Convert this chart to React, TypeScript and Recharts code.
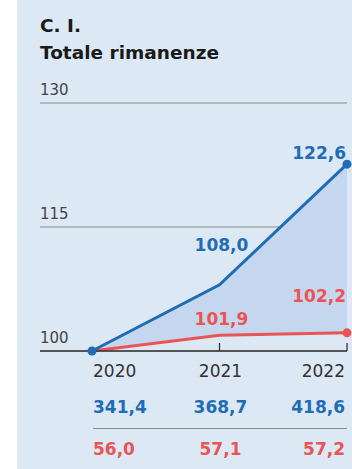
import { ComposedChart, Area, Line, XAxis, YAxis, CartesianGrid, LabelList } from "recharts";

const years = ["2020", "2021", "2022"];
const indexBlue = [100, 108.0, 122.6];
const indexRed = [100, 101.9, 102.2];
const valuesBlue = ["341,4", "368,7", "418,6"];
const valuesRed = ["56,0", "57,1", "57,2"];
const yTicks = [100, 115, 130];

const BLUE = "#1f6db4";
const RED = "#ea5455";
const FONT = "'DejaVu Sans', sans-serif";

const data = years.map((year, i) => ({
  year,
  blue: indexBlue[i],
  red: indexRed[i],
  band: [indexRed[i], indexBlue[i]],
}));

const fmt = (v: number) => v.toFixed(1).replace(".", ",");

const anchorFor = (i: number) => (i === 0 ? "start" : i === years.length - 1 ? "end" : "middle");

const YearTick = (props: any) => {
  const { x, y, payload, index } = props;
  const anchor = anchorFor(index);
  const tx = index === 0 ? x + 1 : index === years.length - 1 ? x - 2 : x + 1;
  return (
    <g>
      {index > 0 && <line x1={x} x2={x} y1={y - 8} y2={y} stroke="#333" strokeWidth={1.3} />}
      <text x={tx} y={y + 26} textAnchor={anchor} fontSize={17} fill="#333" fontFamily={FONT}>
        {payload.value}
      </text>
      <text x={tx} y={y + 62} textAnchor={anchor} fontSize={17} fontWeight={700} fill={BLUE} fontFamily={FONT}>
        {valuesBlue[index]}
      </text>
      <text x={tx} y={y + 104} textAnchor={anchor} fontSize={17} fontWeight={700} fill={RED} fontFamily={FONT}>
        {valuesRed[index]}
      </text>
    </g>
  );
};

const ValueTick = (props: any) => {
  const { y, payload } = props;
  return (
    <text x={40} y={y - 8} textAnchor="start" fontSize={15} fill="#444" fontFamily={FONT}>
      {payload.value}
    </text>
  );
};

const endDot = (color: string, show: number[]) => (props: any) => {
  const { cx, cy, index } = props;
  if (!show.includes(index)) return <g key={index} />;
  return <circle key={index} cx={cx} cy={cy} r={4.5} fill={color} />;
};

const blueLabel = (props: any) => {
  const { x, y, value, index } = props;
  if (index === 0) return null;
  const last = index === years.length - 1;
  return (
    <text x={last ? x - 1 : x + 2} y={last ? y - 5 : y - 34} textAnchor={last ? "end" : "middle"}
      fontSize={17} fontWeight={700} fill={BLUE} fontFamily={FONT}>
      {fmt(value)}
    </text>
  );
};

const redLabel = (props: any) => {
  const { x, y, value, index } = props;
  if (index === 0) return null;
  const last = index === years.length - 1;
  return (
    <text x={last ? x - 1 : x + 2} y={last ? y - 31 : y - 10} textAnchor={last ? "end" : "middle"}
      fontSize={17} fontWeight={700} fill={RED} fontFamily={FONT}>
      {fmt(value)}
    </text>
  );
};

export default function App() {
  return (
    <div style={{ position: "absolute", left: 0, top: 0, width: 352, height: 469, background: "#fff", overflow: "hidden" }}>
      <div style={{ position: "absolute", left: 17, top: 0, width: 335, height: 469, background: "#dde8f5" }} />
      <div style={{ position: "absolute", left: 40, top: 12, fontFamily: FONT, fontWeight: 700, fontSize: 18.5, lineHeight: "27px", color: "#1a1a1a" }}>
        <div>C. I.</div>
        <div>Totale rimanenze</div>
      </div>
      <div style={{ position: "absolute", left: 0, top: 0 }}>
        <ComposedChart width={352} height={469} data={data} margin={{ top: 103, right: 5, bottom: 0, left: 0 }}>
          <CartesianGrid vertical={false} stroke="#8c8c8c" strokeWidth={1} />
          <XAxis
            dataKey="year"
            padding={{ left: 52, right: 0 }}
            axisLine={{ stroke: "#333", strokeWidth: 1.3 }}
            tickLine={false}
            tickSize={0}
            tickMargin={0}
            tick={<YearTick />}
            height={118}
            interval={0}
          />
          <YAxis
            domain={[100, 130]}
            ticks={yTicks}
            width={40}
            interval={0}
            axisLine={false}
            tickLine={false}
            tickSize={0}
            tickMargin={0}
            tick={<ValueTick />}
          />
          <Area dataKey="band" stroke="none" fill="#c4d7ee" fillOpacity={1} isAnimationActive={false} />
          <Line dataKey="red" stroke={RED} strokeWidth={3} dot={endDot(RED, [2])} activeDot={false} isAnimationActive={false}>
            <LabelList dataKey="red" content={redLabel} />
          </Line>
          <Line dataKey="blue" stroke={BLUE} strokeWidth={3} dot={endDot(BLUE, [0, 2])} activeDot={false} isAnimationActive={false}>
            <LabelList dataKey="blue" content={blueLabel} />
          </Line>
        </ComposedChart>
      </div>
      <div style={{ position: "absolute", left: 93, top: 428, width: 254, height: 1, background: "#8c8c8c" }} />
    </div>
  );
}
